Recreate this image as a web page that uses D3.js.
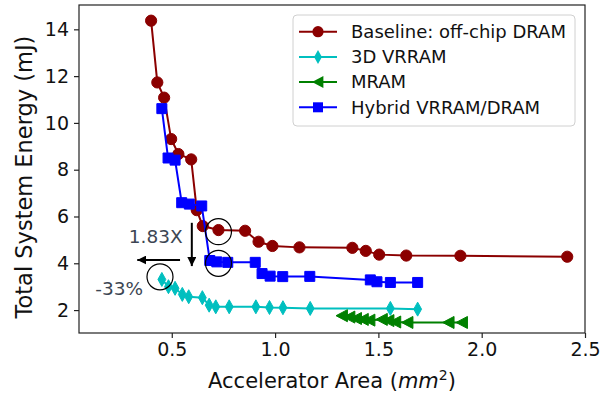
<!DOCTYPE html>
<html>
<head>
<meta charset="utf-8">
<script src="https://cdn.jsdelivr.net/npm/d3@7/dist/d3.min.js"></script>
<style>
  body { margin: 0; background: #fff; }
  svg { font-family: "DejaVu Sans", sans-serif; }
</style>
</head>
<body>
<svg id="chart" width="611" height="397"></svg>
<script>
// series values
const baselineX = [0.400, 0.430, 0.463, 0.497, 0.532, 0.594, 0.621, 0.650, 0.726, 0.855, 0.920, 0.987, 1.118, 1.374, 1.439, 1.504, 1.635, 1.897, 2.414];
const baselineY = [14.37, 11.73, 11.08, 9.31, 8.67, 8.44, 6.27, 5.59, 5.42, 5.39, 4.92, 4.74, 4.68, 4.66, 4.53, 4.37, 4.33, 4.32, 4.28];

const vrramX = [0.452, 0.484, 0.516, 0.551, 0.582, 0.648, 0.681, 0.713, 0.778, 0.907, 0.973, 1.038, 1.170, 1.558, 1.690];
const vrramY = [3.31, 3.00, 2.93, 2.67, 2.57, 2.53, 2.21, 2.14, 2.14, 2.14, 2.11, 2.10, 2.07, 2.07, 2.04];

const mramX = [1.324, 1.360, 1.392, 1.425, 1.457, 1.517, 1.549, 1.582, 1.641, 1.840, 1.905];
const mramY = [1.76, 1.70, 1.64, 1.60, 1.57, 1.60, 1.55, 1.49, 1.47, 1.47, 1.47];

const hybridX = [0.452, 0.482, 0.516, 0.548, 0.585, 0.645, 0.684, 0.718, 0.771, 0.904, 0.937, 0.976, 1.037, 1.168, 1.461, 1.493, 1.558, 1.690];
const hybridY = [10.61, 8.50, 8.41, 6.59, 6.53, 6.45, 4.12, 4.06, 4.04, 4.04, 3.56, 3.45, 3.43, 3.44, 3.29, 3.21, 3.18, 3.18];

const seriesNames = ['Baseline: off-chip DRAM', '3D VRRAM', 'MRAM', 'Hybrid VRRAM/DRAM'];
const xTicks = [0.5, 1.0, 1.5, 2.0, 2.5];
const yTicks = [2, 4, 6, 8, 10, 12, 14];

// annotations (data coordinates)
const rings = [[0.726, 5.35], [0.726, 4.0], [0.443, 3.42]];
const notes = [{text: '1.83X', x: 0.553, y: 4.86}, {text: '-33%', x: 0.361, y: 2.64}];

const margin = {top: 5, right: 26, bottom: 64, left: 79};
const W = 611, H = 397;
const width = W - margin.left - margin.right;
const height = H - margin.top - margin.bottom;

const svg = d3.select('#chart');
const g = svg.append('g').attr('transform', `translate(${margin.left},${margin.top})`);

const x = d3.scaleLinear().domain([0.051, 2.5]).range([0, width]);
const y = d3.scaleLinear().domain([1.02, 15.04]).range([height, 0]);

// marker shapes
const mk = {
  circle: (s) => d3.symbol(d3.symbolCircle, s * s * Math.PI)(),
  square: (s) => `M${-s},${-s}H${s}V${s}H${-s}Z`,
  thinDiamond: (s) => `M0,${-s * 1.25}L${s * 0.7},0L0,${s * 1.25}L${-s * 0.7},0Z`,
  triLeft: (s) => `M${-s},0L${s * 0.9},${-s}L${s * 0.9},${s}Z`
};

const series = [
  {name: seriesNames[0], xs: baselineX, ys: baselineY, color: '#8b0000', shape: 'circle', size: 5.6},
  {name: seriesNames[1], xs: vrramX, ys: vrramY, color: '#00bfbf', shape: 'thinDiamond', size: 5.6},
  {name: seriesNames[2], xs: mramX, ys: mramY, color: '#008000', shape: 'triLeft', size: 6},
  {name: seriesNames[3], xs: hybridX, ys: hybridY, color: '#0000ff', shape: 'square', size: 5}
];

const line = d3.line().x(d => x(d[0])).y(d => y(d[1]));

series.forEach(s => {
  const pts = s.xs.map((v, i) => [v, s.ys[i]]);
  g.append('path')
    .attr('d', line(pts))
    .attr('fill', 'none')
    .attr('stroke', s.color)
    .attr('stroke-width', 2);
  g.selectAll(null)
    .data(pts)
    .enter().append('path')
    .attr('transform', d => `translate(${x(d[0])},${y(d[1])})`)
    .attr('d', mk[s.shape](s.size))
    .attr('fill', s.color)
    .attr('stroke', s.color)
    .attr('stroke-width', 1);
});

// rings
g.selectAll('.ring')
  .data(rings)
  .enter().append('circle')
  .attr('class', 'ring')
  .attr('cx', d => x(d[0]))
  .attr('cy', d => y(d[1]))
  .attr('r', 13)
  .attr('fill', 'none')
  .attr('stroke', '#000')
  .attr('stroke-width', 1.2);

// arrows
svg.append('defs').append('marker')
  .attr('id', 'head')
  .attr('viewBox', '0 0 10 10')
  .attr('refX', 10).attr('refY', 5)
  .attr('markerWidth', 4.5).attr('markerHeight', 4.5)
  .attr('markerUnits', 'strokeWidth')
  .attr('orient', 'auto')
  .append('path').attr('d', 'M0,0L10,5L0,10Z').attr('fill', '#000');

const arrows = [[[0.597, 5.73], [0.597, 3.88]], [[0.540, 4.14], [0.333, 4.14]]];
arrows.forEach(a => {
  g.append('line')
    .attr('x1', x(a[0][0])).attr('y1', y(a[0][1]))
    .attr('x2', x(a[1][0])).attr('y2', y(a[1][1]))
    .attr('stroke', '#000')
    .attr('stroke-width', 2)
    .attr('marker-end', 'url(#head)');
});

g.selectAll('.note')
  .data(notes)
  .enter().append('text')
  .attr('class', 'note')
  .attr('x', d => x(d.x))
  .attr('y', d => y(d.y))
  .attr('text-anchor', 'end')
  .attr('fill', '#3c4653')
  .style('font-size', '18.5px')
  .text(d => d.text);

// axes
const xAxis = d3.axisBottom(x).tickValues(xTicks).tickFormat(d3.format('.1f')).tickSize(5).tickPadding(5);
const yAxis = d3.axisLeft(y).tickValues(yTicks).tickSize(5).tickPadding(5);

const gx = g.append('g').attr('transform', `translate(0,${height})`).call(xAxis);
const gy = g.append('g').call(yAxis);
[gx, gy].forEach(a => {
  a.select('.domain').remove();
  a.selectAll('line').attr('stroke', '#222').attr('stroke-width', 1.2);
  a.selectAll('text').attr('fill', '#111').style('font-size', '19px').style('font-family', '"DejaVu Sans", sans-serif');
});

g.append('rect')
  .attr('width', width).attr('height', height)
  .attr('fill', 'none').attr('stroke', '#222').attr('stroke-width', 1.2);

// axis labels
const xl = svg.append('text')
  .attr('x', margin.left + width / 2)
  .attr('y', 388)
  .attr('text-anchor', 'middle')
  .attr('fill', '#111')
  .style('font-size', '21px');
xl.append('tspan').text('Accelerator Area (');
xl.append('tspan').style('font-style', 'italic').text('mm');
xl.append('tspan').attr('dy', -8).style('font-size', '14px').text('2');
xl.append('tspan').attr('dy', 8).text(')');

svg.append('text')
  .attr('transform', `translate(32,177) rotate(-90)`)
  .attr('text-anchor', 'middle')
  .attr('fill', '#111')
  .style('font-size', '22.5px')
  .text('Total System Energy (mJ)');

// legend
const lg = svg.append('g').attr('transform', 'translate(293,15)');
lg.append('rect')
  .attr('width', 282).attr('height', 111)
  .attr('rx', 4)
  .attr('fill', '#fff').attr('fill-opacity', 0.85)
  .attr('stroke', '#d0d0d0');
series.forEach((s, i) => {
  const row = lg.append('g').attr('transform', `translate(0,${16.7 + i * 25.2})`);
  row.append('line').attr('x1', 6).attr('x2', 44).attr('stroke', s.color).attr('stroke-width', 2);
  row.append('path').attr('transform', 'translate(25,0)').attr('d', mk[s.shape](s.size)).attr('fill', s.color);
  row.append('text').attr('x', 58).attr('dy', '0.35em').attr('fill', '#111').style('font-size', '18px').text(s.name);
});
</script>
</body>
</html>
